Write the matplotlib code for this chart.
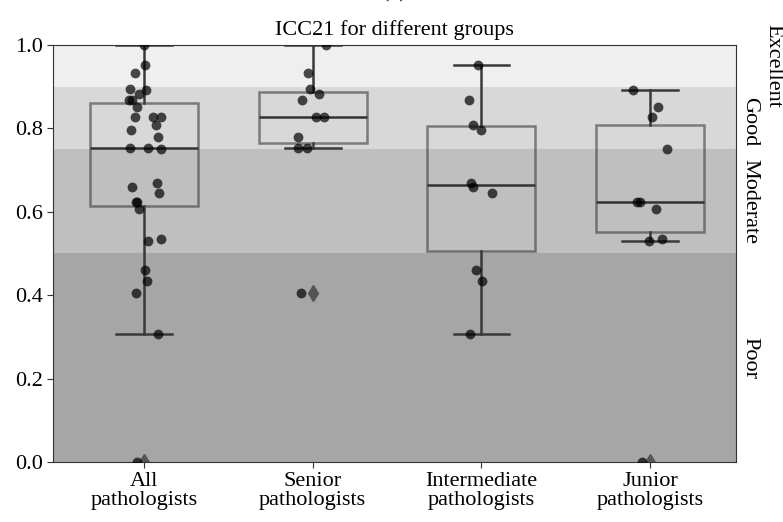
import matplotlib
matplotlib.use("Agg")
import matplotlib.pyplot as plt

plt.rcParams['font.family'] = ['Liberation Serif', 'DejaVu Serif']
plt.rcParams['font.size'] = 16

# ICC21 values
groups = ["All\npathologists", "Senior\npathologists",
          "Intermediate\npathologists", "Junior\npathologists"]

senior = [1.0, 0.932, 0.894, 0.882, 0.868, 0.827, 0.827, 0.778, 0.753, 0.753, 0.405]
intermediate = [0.952, 0.868, 0.808, 0.796, 0.670, 0.659, 0.644, 0.461, 0.435, 0.306]
junior = [0.892, 0.852, 0.827, 0.750, 0.623, 0.624, 0.606, 0.530, 0.534, 0.0]
all_paths = senior + intermediate + junior

# strip-plot jitter as seen in the picture (category units)
jit_senior = [0.076, -0.028, -0.016, 0.035, -0.065, 0.02, 0.065, -0.086, -0.085, -0.032, -0.067]
jit_intermediate = [-0.022, -0.073, -0.047, -0.004, -0.059, -0.05, 0.065, -0.032, 0.004, -0.07]
jit_junior = [-0.10, 0.045, 0.012, 0.098, -0.079, -0.059, 0.035, -0.008, 0.07, -0.045]
jit_all = ([0.0, -0.055, -0.084, -0.03, -0.09, -0.055, 0.05, 0.08, -0.085, 0.025, -0.05]
           + [0.006, -0.07, 0.07, -0.08, 0.075, -0.07, 0.087, 0.003, 0.02, 0.082]
           + [0.012, -0.04, 0.10, 0.10, -0.045, -0.04, -0.03, 0.025, 0.10, -0.043])

data = [all_paths, senior, intermediate, junior]
jitters = [jit_all, jit_senior, jit_intermediate, jit_junior]

band_edges = [0.0, 0.5, 0.75, 0.9, 1.0]
band_names = ["Poor", "Moderate", "Good", "Excellent"]
band_colors = ["#a6a6a6", "#bfbfbf", "#d8d8d8", "#efefef"]

fig, ax = plt.subplots(figsize=(7.83, 5.22), dpi=100)
fig.subplots_adjust(left=0.0677, right=0.940, bottom=0.115, top=0.914)

for i in range(len(band_names)):
    ax.axhspan(band_edges[i], band_edges[i + 1], color=band_colors[i], lw=0, zorder=0)

pos = list(range(len(groups)))
ax.boxplot(data, positions=pos, widths=0.64, capwidths=0.33, patch_artist=True,
           boxprops=dict(facecolor='none', edgecolor='#3c3c3c', alpha=0.6, lw=1.8),
           whiskerprops=dict(color='#3a3a3a', lw=1.8),
           capprops=dict(color='#3a3a3a', lw=1.8),
           medianprops=dict(color='#333333', lw=1.8),
           flierprops=dict(marker='d', markerfacecolor='#555555', markeredgecolor='#555555',
                           markersize=8),
           zorder=2)

for i, vals in enumerate(data):
    xs = [i + j for j in jitters[i]]
    ax.scatter(xs, vals, s=50, color='black', alpha=0.7, lw=0, zorder=3)

ax.set_xlim(-0.54, 3.51)
ax.set_ylim(0, 1.0)
ax.set_yticks([0.0, 0.2, 0.4, 0.6, 0.8, 1.0])
ax.set_yticklabels(["0.0", "0.2", "0.4", "0.6", "0.8", "1.0"])
ax.set_xticks(pos)
ax.set_xticklabels(groups, linespacing=0.95)
ax.tick_params(length=4, color='#333333')
for s in ax.spines.values():
    s.set_color('#333333')

ax.set_title("ICC21 for different groups", fontsize=16, pad=7)
fig.text(0.5035, 1.0 + 3.0 / 522, "(a)", ha='center', va='baseline', fontsize=16)

label_y = [0.25, 0.625, 0.815, 0.95]
label_x = [1.006, 1.006, 1.006, 1.04]
for name, y, x in zip(band_names, label_y, label_x):
    ax.text(x, y, name, rotation=-90, transform=ax.transAxes,
            ha='left', va='center', fontsize=16)

fig.savefig("out.png", dpi=100)
